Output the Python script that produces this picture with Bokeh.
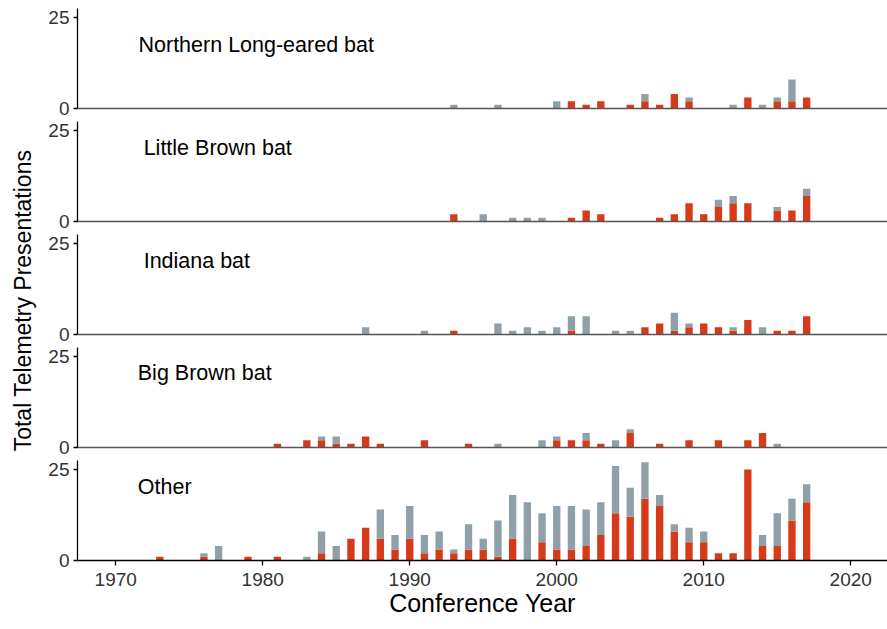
import math

from bokeh.embed import file_html
from bokeh.layouts import column, row
from bokeh.models import ColumnDataSource, FixedTicker, Label, Range1d
from bokeh.plotting import figure
from bokeh.resources import INLINE

# ---- data: telemetry presentations per conference year ----
# each species: years with presentations, red (lower) and grey (upper) stacked counts
nleb_years = [1993, 1996, 2000, 2001, 2002, 2003, 2005, 2006, 2007, 2008, 2009,
              2012, 2013, 2014, 2015, 2016, 2017]
nleb_red = [0, 0, 0, 2, 1, 2, 1, 2, 1, 4, 2, 0, 3, 0, 2, 2, 3]
nleb_grey = [1, 1, 2, 0, 0, 0, 0, 2, 0, 0, 1, 1, 0, 1, 1, 6, 0]

lbb_years = [1993, 1995, 1997, 1998, 1999, 2001, 2002, 2003, 2007, 2008, 2009,
             2010, 2011, 2012, 2013, 2015, 2016, 2017]
lbb_red = [2, 0, 0, 0, 0, 1, 3, 2, 1, 2, 5, 2, 4, 5, 5, 3, 3, 7]
lbb_grey = [0, 2, 1, 1, 1, 0, 0, 0, 0, 0, 0, 0, 2, 2, 0, 1, 0, 2]

ind_years = [1987, 1991, 1993, 1996, 1997, 1998, 1999, 2000, 2001, 2002, 2004,
             2005, 2006, 2007, 2008, 2009, 2010, 2011, 2012, 2013, 2014, 2015,
             2016, 2017]
ind_red = [0, 0, 1, 0, 0, 0, 0, 0, 1, 0, 0, 0, 2, 3, 1, 2, 3, 2, 1, 4, 0, 1, 1, 5]
ind_grey = [2, 1, 0, 3, 1, 2, 1, 2, 4, 5, 1, 1, 0, 0, 5, 1, 0, 0, 1, 0, 2, 0, 0, 0]

bbb_years = [1981, 1983, 1984, 1985, 1986, 1987, 1988, 1991, 1994, 1996, 1999,
             2000, 2001, 2002, 2003, 2004, 2005, 2007, 2009, 2011, 2013, 2014,
             2015]
bbb_red = [1, 2, 2, 1, 1, 3, 1, 2, 1, 0, 0, 2, 2, 2, 1, 0, 4, 1, 2, 2, 2, 4, 0]
bbb_grey = [0, 0, 1, 2, 0, 0, 0, 0, 0, 1, 2, 1, 0, 2, 0, 2, 1, 0, 0, 0, 0, 0, 1]

oth_years = [1973, 1976, 1977, 1979, 1981, 1983] + list(range(1984, 2018))
oth_red = [1, 1, 0, 1, 1, 0,
           2, 0, 6, 9, 6, 3, 6, 2, 3, 2,
           3, 3, 1, 6, 0, 5, 3, 3, 4, 7,
           13, 12, 17, 15, 8, 5, 5, 2, 2, 25,
           4, 4, 11, 16]
oth_grey = [0, 1, 4, 0, 0, 1,
            6, 4, 0, 0, 8, 4, 9, 5, 5, 1,
            7, 3, 10, 12, 16, 8, 12, 12, 10, 9,
            13, 8, 10, 3, 2, 4, 3, 0, 0, 0,
            3, 9, 6, 5]

panel_names = ["Northern Long-eared bat", "Little Brown bat", "Indiana bat",
               "Big Brown bat", "Other"]
x_ticks = [1970, 1980, 1990, 2000, 2010, 2020]
y_ticks = [0, 25]

# ---- styling ----
RED = "#D63A19"
GREY = "#8FA0A8"
FONT = "Liberation Sans"
TICK_SIZE = "19px"
X_RANGE = (1967.4, 2022.5)
Y_MAX = 27.5
PANEL_W = 847
LEFT_W = 40

panels_data = [
    (nleb_years, nleb_red, nleb_grey),
    (lbb_years, lbb_red, lbb_grey),
    (ind_years, ind_red, ind_grey),
    (bbb_years, bbb_red, bbb_grey),
    (oth_years, oth_red, oth_grey),
]
# (height, border top, border bottom, label x, label y)
geometry = [
    (119, 8, 11, 1971.55, 17.6),
    (113, 2, 11, 1971.9, 20.35),
    (113, 2, 11, 1971.9, 20.35),
    (113, 2, 11, 1971.5, 20.6),
    (171, 2, 69, 1971.5, 20.35),
]


def make_panel(name, years, red, grey, geom, last):
    height, btop, bbot, lx, ly = geom
    p = figure(width=PANEL_W, height=height,
               x_range=Range1d(*X_RANGE), y_range=Range1d(0, Y_MAX),
               output_backend="svg", toolbar_location=None,
               min_border_left=37, min_border_right=0,
               min_border_top=btop, min_border_bottom=bbot)
    p.outline_line_color = None
    p.xgrid.visible = False
    p.ygrid.visible = False
    p.background_fill_color = "white"

    total = [r + g for r, g in zip(red, grey)]
    src = ColumnDataSource(dict(year=years, red=red, total=total))
    p.vbar(x="year", bottom=0, top="red", width=0.5, source=src,
           fill_color=RED, line_color=None)
    p.vbar(x="year", bottom="red", top="total", width=0.5, source=src,
           fill_color=GREY, line_color=None)

    # y axis
    yax = p.yaxis[0]
    yax.ticker = FixedTicker(ticks=y_ticks)
    yax.major_tick_in = 0
    yax.major_tick_out = 4
    yax.minor_tick_line_color = None
    yax.axis_line_color = "black"
    yax.axis_line_width = 1.3
    yax.major_tick_line_width = 1.3
    yax.major_label_text_font = FONT
    yax.major_label_text_font_size = TICK_SIZE
    yax.major_label_text_color = "#333333"
    yax.major_label_standoff = 4

    # x axis
    xax = p.xaxis[0]
    xax.minor_tick_line_color = None
    if last:
        xax.ticker = FixedTicker(ticks=x_ticks)
        xax.major_tick_in = 0
        xax.major_tick_out = 5
        xax.axis_line_color = "black"
        xax.axis_line_width = 1.3
        xax.major_tick_line_width = 1.3
        xax.major_label_text_font = FONT
        xax.major_label_text_font_size = TICK_SIZE
        xax.major_label_text_color = "#333333"
        xax.major_label_standoff = 7
        xax.axis_label = "Conference Year"
        xax.axis_label_text_font = FONT
        xax.axis_label_text_font_style = "normal"
        xax.axis_label_text_font_size = "25px"
        xax.axis_label_text_color = "black"
        xax.axis_label_standoff = 0
    else:
        xax.ticker = FixedTicker(ticks=[])
        xax.major_tick_out = 0
        xax.major_tick_in = 0
        xax.major_label_text_font_size = "0px"
        xax.major_label_standoff = 0
        xax.axis_line_color = "#555555"
        xax.axis_line_width = 1.5

    p.add_layout(Label(x=lx, y=ly, text=name, text_font=FONT,
                       text_font_size="21.5px", text_color="black",
                       text_baseline="middle", text_align="left"))
    return p


panels = []
for i, (name, (yrs, r, g)) in enumerate(zip(panel_names, panels_data)):
    panels.append(make_panel(name, yrs, r, g, geometry[i], i == len(panel_names) - 1))

# shared y-axis title in its own narrow strip
total_h = sum(g[0] for g in geometry)
side = figure(width=LEFT_W, height=total_h, x_range=Range1d(0, LEFT_W),
              y_range=Range1d(0, total_h), output_backend="svg",
              toolbar_location=None, min_border_left=0, min_border_right=0,
              min_border_top=0, min_border_bottom=0)
side.axis.visible = False
side.xgrid.visible = False
side.ygrid.visible = False
side.outline_line_color = None
side.add_layout(Label(x=22, y=total_h - 300, text="Total Telemetry Presentations",
                      angle=math.pi / 2, text_align="center",
                      text_baseline="middle", text_font=FONT,
                      text_font_size="23px", text_color="black"))

layout = row(side, column(*panels, spacing=0), spacing=0)

open("out.html", "w").write(file_html(layout, INLINE))
